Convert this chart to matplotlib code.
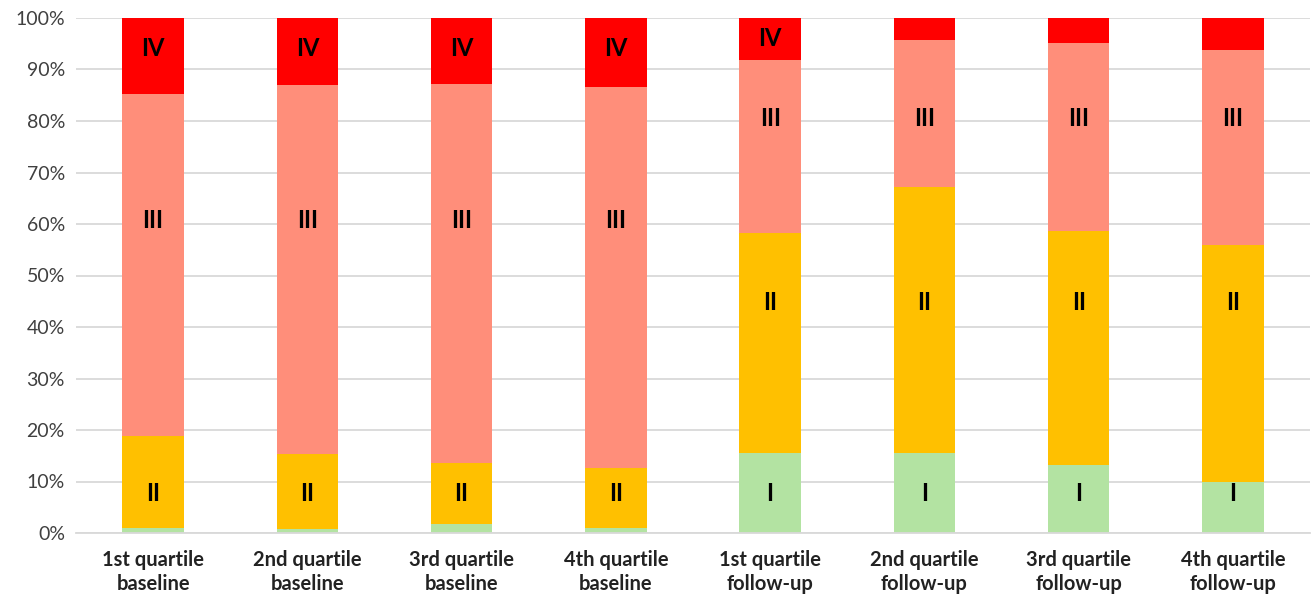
import numpy as np
import matplotlib
matplotlib.use("Agg")
from matplotlib import pyplot as plt
from matplotlib.ticker import PercentFormatter

plt.rcParams['font.family'] = ['Lato', 'DejaVu Sans']

categories = ["1st quartile\nbaseline", "2nd quartile\nbaseline", "3rd quartile\nbaseline",
              "4th quartile\nbaseline", "1st quartile\nfollow-up", "2nd quartile\nfollow-up",
              "3rd quartile\nfollow-up", "4th quartile\nfollow-up"]

# cumulative tops (percent)
top_I = [1.0, 0.7, 1.8, 1.0, 15.6, 15.5, 13.2, 10.0]
top_II = [18.8, 15.3, 13.5, 12.7, 58.2, 67.1, 58.6, 56.0]
top_III = [85.2, 87.0, 87.2, 86.6, 91.8, 95.7, 95.1, 93.7]

stage_I = np.array(top_I)
stage_II = np.array(top_II) - np.array(top_I)
stage_III = np.array(top_III) - np.array(top_II)
stage_IV = 100 - np.array(top_III)

stage_names = ["I", "II", "III", "IV"]
stage_colors = ["#B3E3A2", "#FFC000", "#FF8E7A", "#FF0000"]

# where the roman numerals sit on each bar (None = no label)
label_y = {
    "I": [None, None, None, None, 7.6, 7.6, 7.6, 7.6],
    "II": [7.6, 7.6, 7.6, 7.6, 44.7, 44.7, 44.7, 44.7],
    "III": [60.6, 60.6, 60.6, 60.6, 80.4, 80.4, 80.4, 80.4],
    "IV": [94.0, 94.0, 94.0, 94.0, 96.0, None, None, None],
}

fig = plt.figure(figsize=(13.16, 5.98), dpi=100)
ax = fig.add_axes([76 / 1316, 65 / 598, 1234 / 1316, 515 / 598])

x = np.arange(len(categories))
bottom = np.zeros(len(categories))
for name, vals, col in zip(stage_names, [stage_I, stage_II, stage_III, stage_IV], stage_colors):
    ax.bar(x, vals, bottom=bottom, width=0.4, color=col, zorder=2)
    bottom += vals

for name in stage_names:
    for xi, yv in zip(x, label_y[name]):
        if yv is not None:
            ax.text(xi, yv, name, ha='center', va='center', fontsize=17,
                    fontweight='bold', color='black', zorder=3)

ax.set_xlim(-0.5, len(categories) - 0.5)
ax.set_ylim(0, 100)
ax.set_yticks(np.arange(0, 101, 10))
ax.yaxis.set_major_formatter(PercentFormatter(decimals=0))
ax.grid(axis='y', color='#D9D9D9', linewidth=1.3, zorder=0)
for s in ['top', 'right', 'left']:
    ax.spines[s].set_visible(False)
ax.spines['bottom'].set_color('#D9D9D9')
ax.spines['bottom'].set_linewidth(1.3)
ax.tick_params(axis='both', length=0)
ax.tick_params(axis='y', labelsize=14, colors='#404040', pad=8)
ax.set_xticks(x)
ax.set_xticklabels(categories, fontsize=14.5, fontweight='bold', color='#222222',
                   linespacing=1.3)
ax.tick_params(axis='x', pad=12)

fig.savefig("out.png", dpi=100)
